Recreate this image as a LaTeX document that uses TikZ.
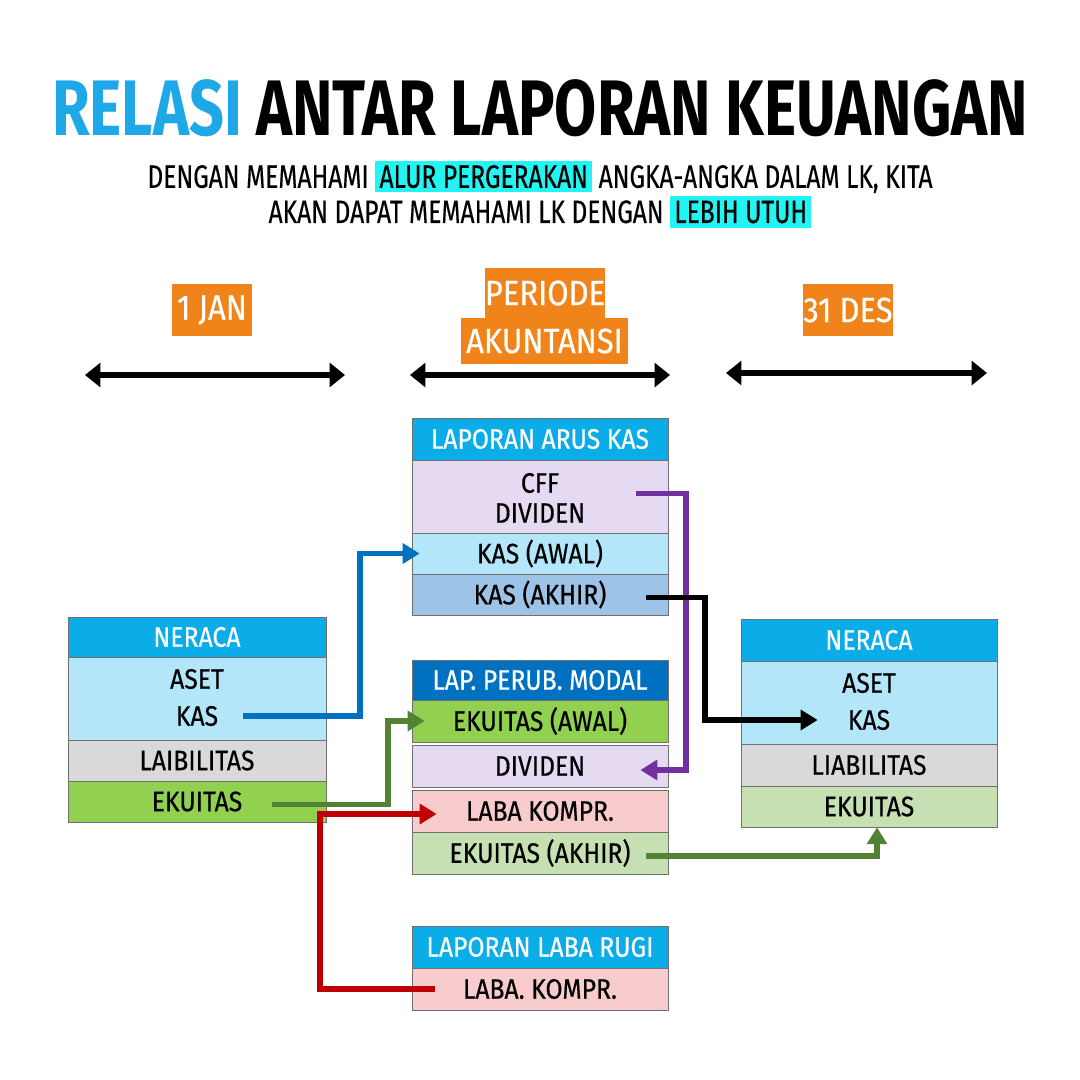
\documentclass[tikz,border=0pt]{standalone}
\usepackage{fontspec}
\usepackage{graphicx}
\setmainfont{Fira Sans}
\newfontfamily\hand[FakeStretch=0.88,FakeBold=0.5]{Fira Sans}
\newfontfamily\subf[FakeStretch=0.76,FakeBold=0.3]{Fira Sans}
\newfontfamily\titlef[FakeStretch=0.775]{Fira Sans}
\usetikzlibrary{arrows.meta,calc}
\definecolor{hblue}{HTML}{0AADE8}
\definecolor{dblue}{HTML}{0070C0}
\definecolor{lblue}{HTML}{B4E6FA}
\definecolor{lav}{HTML}{E5DAF2}
\definecolor{steel}{HTML}{9DC3E6}
\definecolor{lgray}{HTML}{D9D9D9}
\definecolor{grn}{HTML}{92D050}
\definecolor{lgrn}{HTML}{C6E0B4}
\definecolor{pnk}{HTML}{F8CCCC}
\definecolor{orng}{HTML}{F0841A}
\definecolor{tblue}{HTML}{1EA8E8}
\definecolor{hlcyan}{HTML}{22F3F3}
\definecolor{rowline}{HTML}{707070}
\definecolor{cblue}{HTML}{0070C0}
\definecolor{cgreen}{HTML}{548235}
\definecolor{cred}{HTML}{C00000}
\definecolor{cpurple}{HTML}{7030A0}
\newcommand\hlbox[1]{{\setlength\fboxsep{3pt}\colorbox{hlcyan}{#1}}}
\begin{document}
\begin{tikzpicture}[x=0.025cm,y=-0.025cm,
  rowbox/.style={draw=rowline, line width=0.5pt, inner sep=0pt, minimum width=6.4cm,
    font=\hand\fontsize{20}{24}\selectfont, text=black},
  hdrbox/.style={rowbox, text=white},
  txt/.style={inner sep=0pt, font=\hand\fontsize{20}{24}\selectfont, text=black},
  obox/.style={fill=orng, text=white, inner sep=0pt, font=\hand\fontsize{25}{30}\selectfont},
  conn/.style={line width=4.2pt, -{Triangle[length=12pt,width=14pt]}},
  tline/.style={line width=4.2pt, {Triangle[length=11pt,width=17pt]}-{Triangle[length=11pt,width=17pt]}}]
\fill[white] (0,0) rectangle (1080,1080);
\useasboundingbox (0,0) rectangle (1080,1080);
% title
\node[inner sep=0pt] (title) at (540,108) {\titlef\bfseries\fontsize{56}{60}\selectfont\textcolor{tblue}{RELASI} ANTAR LAPORAN KEUANGAN};
\node[inner sep=0pt] (sub1) at (540,177) {\subf\fontsize{23}{27}\selectfont DENGAN MEMAHAMI \hlbox{ALUR PERGERAKAN} ANGKA-ANGKA DALAM LK, KITA};
\node[inner sep=0pt] (sub2) at (540,212) {\subf\fontsize{23}{27}\selectfont AKAN DAPAT MEMAHAMI LK DENGAN \hlbox{LEBIH UTUH}};
% period labels
\node[obox, minimum width=2cm, minimum height=1.3cm] (jan) at (212,310) {1 JAN};
\node[obox, minimum width=3cm, minimum height=1.25cm] (per1) at (545,293) {PERIODE};
\node[obox, minimum width=4.18cm, minimum height=1.15cm] (per2) at (544.5,341) {AKUNTANSI};
\node[obox, minimum width=2cm, minimum height=1.3cm] (des) at (848,310) {31 DES};
% timeline arrows
\coordinate (a1) at (85,375); \coordinate (a2) at (345,375);
\coordinate (b1) at (410,375); \coordinate (b2) at (670,375);
\coordinate (c1) at (726,373); \coordinate (c2) at (987,373);
\draw[tline] (a1) -- (a2);
\draw[tline] (b1) -- (b2);
\draw[tline] (c1) -- (c2);
% left neraca
\node[hdrbox, fill=hblue, minimum width=6.45cm, minimum height=1cm] (nL) at (197,637) {NERACA};
\node[rowbox, fill=lblue, minimum width=6.45cm, minimum height=2.075cm] (asL) at (197,698.5) {};
\node[txt] (asetL) at (197,679) {ASET};
\node[txt] (kasL) at (197,716) {KAS};
\node[rowbox, fill=lgray, minimum width=6.45cm, minimum height=1.025cm] (liL) at (197,760.5) {LAIBILITAS};
\node[rowbox, fill=grn, minimum width=6.45cm, minimum height=1.025cm] (ekL) at (197,801.5) {EKUITAS};
% arus kas
\node[hdrbox, fill=hblue, minimum height=1.05cm] (ak) at (540,439) {LAPORAN ARUS KAS};
\node[rowbox, fill=lav, minimum height=1.825cm] (cff) at (540,496.5) {};
\node[txt] (cffT) at (540,483) {CFF};
\node[txt] (divT) at (540,513) {DIVIDEN};
\node[rowbox, fill=lblue, minimum height=1.025cm] (kaw) at (540,553.5) {KAS (AWAL)};
\node[rowbox, fill=steel, minimum height=1.025cm] (kak) at (540,594.5) {KAS (AKHIR)};
% perubahan modal
\node[hdrbox, fill=dblue, minimum height=1cm] (pm) at (540,680) {LAP. PERUB. MODAL};
\node[rowbox, fill=grn, minimum height=1.05cm] (eaw) at (540,721) {EKUITAS (AWAL)};
\node[rowbox, fill=lav, minimum height=1.05cm] (dv) at (540,766) {DIVIDEN};
\node[rowbox, fill=pnk, minimum height=1.05cm] (lk) at (540,811) {LABA KOMPR.};
\node[rowbox, fill=lgrn, minimum height=1.05cm] (eak) at (540,853) {EKUITAS (AKHIR)};
% right neraca
\node[hdrbox, fill=hblue, minimum height=1.05cm] (nR) at (869,640) {NERACA};
\node[rowbox, fill=lblue, minimum height=2.075cm] (asR) at (869,702.5) {};
\node[txt] (asetR) at (869,683) {ASET};
\node[txt] (kasR) at (869,720) {KAS};
\node[rowbox, fill=lgray, minimum height=1.05cm] (liR) at (869,765) {LIABILITAS};
\node[rowbox, fill=lgrn, minimum height=1.025cm] (ekR) at (869,806.5) {EKUITAS};
% laba rugi
\node[hdrbox, fill=hblue, minimum height=1.05cm] (lr) at (540,947) {LAPORAN LABA RUGI};
\node[rowbox, fill=pnk, minimum height=1.05cm] (lrk) at (540,989) {LABA. KOMPR.};
% connectors
\draw[conn, cblue] ($(asL.east |- kasL)+(-83,0)$) -- ++(117,0) |- ($(kaw.west)+(8,0)$);
\draw[conn, cgreen] ($(ekL.east)+(-54,3)$) -- ++(116,0) |- ($(eaw.west)+(13,0)$);
\draw[conn, cred] ($(lrk.west)+(23,0)$) -- ++(-115,0) |- ($(lk.west)+(25,3)$);
\draw[conn, cpurple] ($(cff.east)+(-32,-3)$) -- ++(50,0) |- ($(dv.east)+(-28,4)$);
\draw[conn, black] ($(kak.east)+(-22,3)$) -- ++(59,0) |- ($(asR.west |- kasR)+(77,0)$);
\draw[conn, cgreen] ($(eak.east)+(-22,3)$) -| ($(ekR.south)+(8,0)$);
\end{tikzpicture}
\end{document}
